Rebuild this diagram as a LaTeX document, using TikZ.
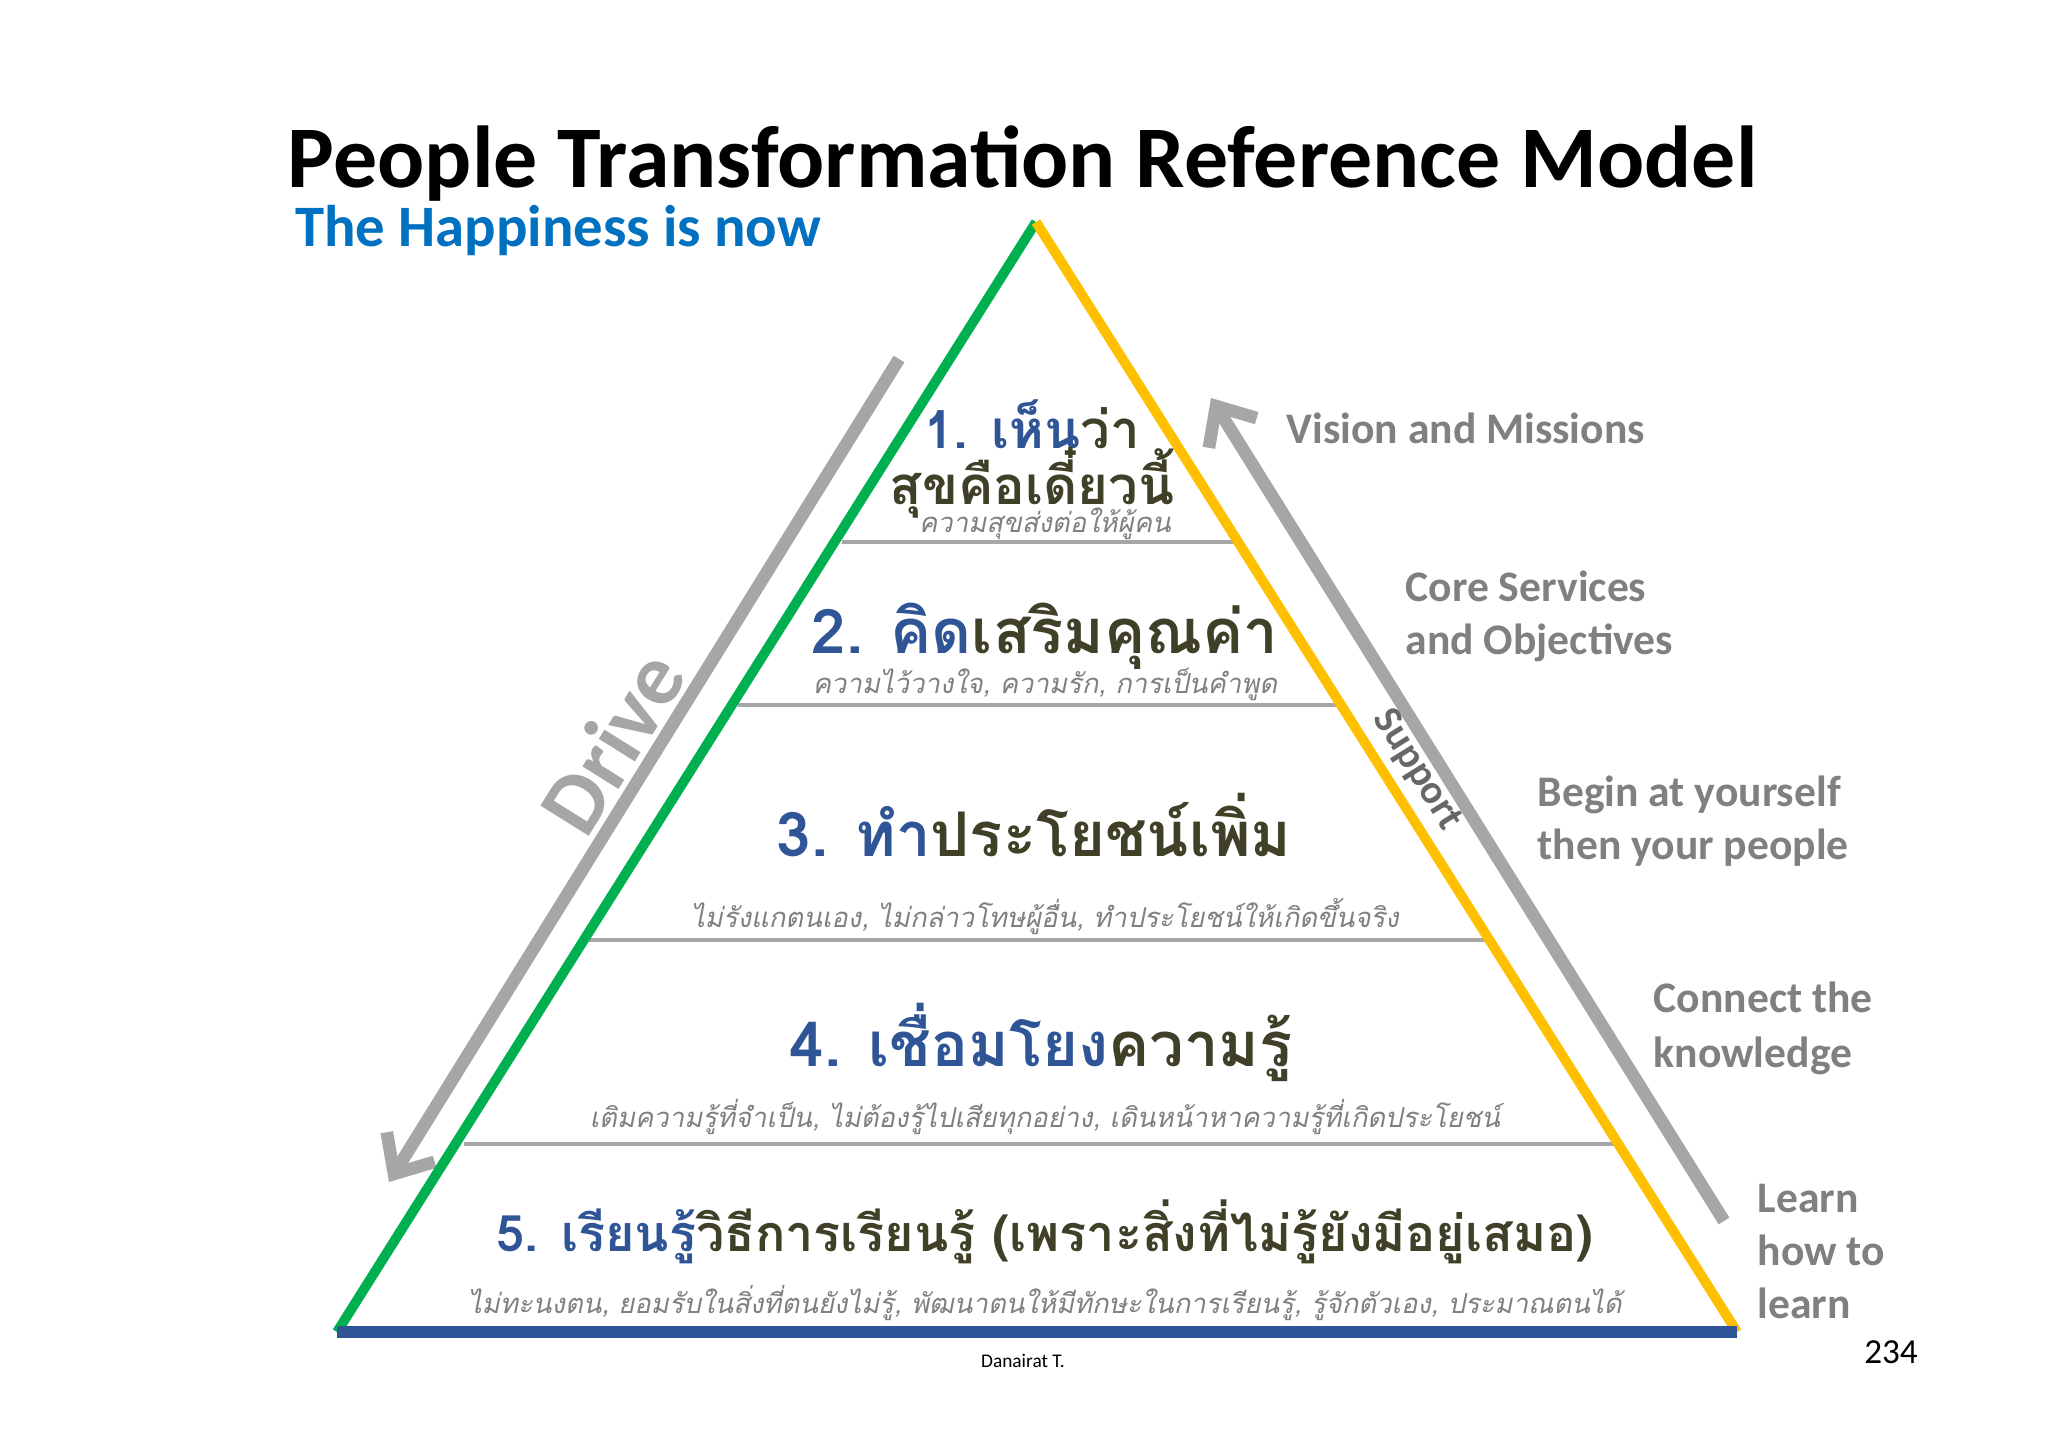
\documentclass[tikz,border=0pt]{standalone}
\usepackage{fontspec}
\setmainfont{Carlito}
\newfontfamily\thai[Script=Thai]{Loma}
\newfontfamily\thaiit[Script=Thai,FakeSlant=0.2]{Loma}
\usetikzlibrary{arrows.meta}
\definecolor{tblue}{RGB}{47,85,151}
\definecolor{tolive}{RGB}{64,64,40}
\definecolor{sblue}{RGB}{0,112,192}
\definecolor{lgray}{RGB}{166,166,166}
\definecolor{tgray}{RGB}{128,128,128}
\definecolor{pgreen}{RGB}{0,176,80}
\definecolor{pyellow}{RGB}{255,192,0}
\definecolor{pbase}{RGB}{47,85,151}
\tikzset{
 head/.style={font=\thai\bfseries\fontsize{17.5}{20}\selectfont,text=tolive,inner sep=0},
 sub/.style={font=\thaiit\fontsize{7.8}{9}\selectfont,text=tgray,inner sep=0},
 rlab/.style={font=\bfseries\fontsize{12.4}{15}\selectfont,text=tgray,anchor=north west,align=left,inner sep=0},
 level/.style={draw=lgray,line width=1.1pt},
 bigarrow/.style={draw=lgray,line width=3.6pt,-{Straight Barb[length=9pt,width=16pt,line width=3.6pt]}}
}
\begin{document}
\begin{tikzpicture}[x=0.01cm,y=-0.01cm]
\useasboundingbox[fill=white] (0,0) rectangle (2048,1448);
\coordinate (A) at (1036,222);
\coordinate (BL) at (337,1332);
\coordinate (BR) at (1737,1332);
% level lines
\coordinate (l1a) at (842,542); \coordinate (l1b) at (1234,542);
\coordinate (l2a) at (738,705); \coordinate (l2b) at (1339,705);
\coordinate (l3a) at (588,940); \coordinate (l3b) at (1489,940);
\coordinate (l4a) at (464,1144); \coordinate (l4b) at (1619,1144);
\draw[level] (l1a) -- (l1b);
\draw[level] (l2a) -- (l2b);
\draw[level] (l3a) -- (l3b);
\draw[level] (l4a) -- (l4b);
% arrows
\coordinate (d1) at (899,359); \coordinate (d2) at (389,1182);
\coordinate (s1) at (1724,1221); \coordinate (s2) at (1211,398);
\draw[bigarrow] (d1) -- (d2);
\draw[bigarrow] (s1) -- (s2);
% triangle
\draw[pgreen,line width=2.8pt] (BL) -- (A);
\draw[pyellow,line width=2.8pt] (A) -- (BR);
\draw[pbase,line width=3.2pt] (BL) -- (BR);
\node[rotate=58,font=\bfseries\fontsize{25}{25}\selectfont,text=lgray] (drive) at (612,742) {Drive};
\node[rotate=-58,font=\bfseries\fontsize{11.5}{12}\selectfont,text=tgray!80!black] (sup) at (1417,770) {Support};
% titles
\node[font=\bfseries\fontsize{25}{30}\selectfont] (title) at (1023,163) {People Transformation Reference Model};
\node[font=\bfseries\fontsize{16.7}{20}\selectfont,text=sblue] (subt) at (558,231) {The Happiness is now};
% levels
\node[head,font=\thai\bfseries\fontsize{15}{18}\selectfont] (h1a) at (1032,424) {\textcolor{tblue}{1. เห็น}ว่า};
\node[head,font=\thai\bfseries\fontsize{15}{18}\selectfont] (h1b) at (1032,483) {สุขคือเดี๋ยวนี้};
\node[sub] (s1t) at (1045,524) {ความสุขส่งต่อให้ผู้คน};
\node[head] (h2) at (1045,636) {\textcolor{tblue}{2. คิด}เสริมคุณค่า};
\node[head] (h3) at (1034,825) {\textcolor{tblue}{3. ทำ}ประโยชน์เพิ่ม};
\node[sub] (s2t) at (1045,684) {ความไว้วางใจ, ความรัก, การเป็นคำพูด};
\node[sub] (s3t) at (1045,917) {ไม่รังแกตนเอง, ไม่กล่าวโทษผู้อื่น, ทำประโยชน์ให้เกิดขึ้นจริง};
\node[head] (h4) at (1041,1042) {\textcolor{tblue}{4. เชื่อมโยง}ความรู้};
\node[sub] (s4t) at (1045,1117) {เติมความรู้ที่จำเป็น, ไม่ต้องรู้ไปเสียทุกอย่าง, เดินหน้าหาความรู้ที่เกิดประโยชน์};
\node[head,font=\thai\bfseries\fontsize{14.3}{17}\selectfont] (h5) at (1045,1232) {\textcolor{tblue}{5. เรียนรู้}วิธีการเรียนรู้ (เพราะสิ่งที่ไม่รู้ยังมีอยู่เสมอ)};
\node[sub] (s5t) at (1045,1303) {ไม่ทะนงตน, ยอมรับในสิ่งที่ตนยังไม่รู้, พัฒนาตนให้มีทักษะในการเรียนรู้, รู้จักตัวเอง, ประมาณตนได้};
% right labels
\node[rlab] (r1) at (1286,412) {Vision and Missions};
\node[rlab] (r2) at (1405,570) {Core Services\\and Objectives};
\node[rlab] (r3) at (1537,775) {Begin at yourself\\then your people};
\node[rlab,font=\bfseries\fontsize{12.4}{15.8}\selectfont] (r4) at (1653,981) {Connect the\\knowledge};
\node[rlab] (r5) at (1757,1184) {Learn\\how to\\learn};
\node[font=\fontsize{10}{10}\selectfont] (pg) at (1891,1352) {234};
\node[font=\fontsize{5.5}{6}\selectfont] (auth) at (1023,1361) {Danairat T.};
\end{tikzpicture}
\end{document}
